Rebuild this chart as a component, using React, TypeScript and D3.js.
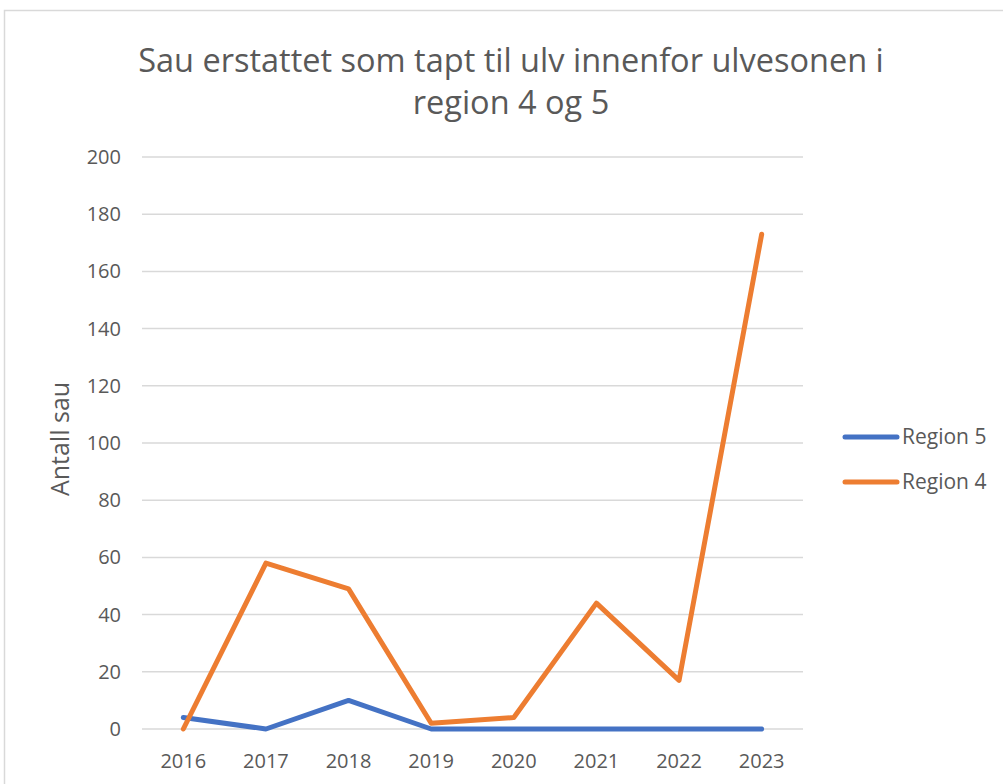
import React from "react";
import * as d3 from "d3";

const years = ["2016", "2017", "2018", "2019", "2020", "2021", "2022", "2023"];
const region5 = [4, 0, 10, 0, 0, 0, 0, 0];
const region4 = [0, 58, 49, 2, 4, 44, 17, 173];
const yTicks = [0, 20, 40, 60, 80, 100, 120, 140, 160, 180, 200];
const seriesNames = ["Region 5", "Region 4"];
const colors = ["#4472C4", "#ED7D31"];
const titleLines = ["Sau erstattet som tapt til ulv innenfor ulvesonen i", "region 4 og 5"];
const yTitle = "Antall sau";

const W = 1003, H = 784;
const left = 142, right = 803, top = 157, bottom = 729;
const font = "'Open Sans', sans-serif";

export default function App() {
  const x = d3.scaleBand<string>().domain(years).range([left, right]);
  const y = d3.scaleLinear().domain([0, 200]).range([bottom, top]);
  const line = d3
    .line<number>()
    .x((_, i) => (x(years[i]) as number) + x.bandwidth() / 2)
    .y((d) => y(d));
  const series = [region5, region4];
  return (
    <svg width={W} height={H} style={{ position: "absolute", left: 0, top: 0, display: "block" }}>
      <rect x={0} y={0} width={W} height={H} fill="#fff" />
      <rect x={4.5} y={10.5} width={W + 10} height={H + 10} fill="#fff" stroke="#d9d9d9" strokeWidth={1.5} />
      {titleLines.map((t, i) => (
        <text key={i} x={511} y={72 + i * 42} textAnchor="middle" fontSize={32.5} fill="#595959" fontFamily={font}>
          {t}
        </text>
      ))}
      {yTicks.map((t) => (
        <g key={t}>
          <line x1={left} x2={right} y1={y(t)} y2={y(t)} stroke="#d9d9d9" strokeWidth={1.5} />
          <text x={121} y={y(t)} dy="0.35em" textAnchor="end" fontSize={20} fill="#595959" fontFamily={font}>
            {t}
          </text>
        </g>
      ))}
      {years.map((yr) => (
        <text key={yr} x={(x(yr) as number) + x.bandwidth() / 2} y={768} textAnchor="middle" fontSize={20} fill="#595959" fontFamily={font}>
          {yr}
        </text>
      ))}
      <text transform="translate(69,439) rotate(-90)" textAnchor="middle" fontSize={25} fill="#595959" fontFamily={font}>
        {yTitle}
      </text>
      {series.map((s, i) => (
        <path key={i} d={line(s) || ""} fill="none" stroke={colors[i]} strokeWidth={5} strokeLinecap="round" strokeLinejoin="round" />
      ))}
      {seriesNames.map((n, i) => (
        <g key={n}>
          <line x1={845} x2={897} y1={437 + i * 45} y2={437 + i * 45} stroke={colors[i]} strokeWidth={5} strokeLinecap="round" />
          <text x={902} y={437 + i * 45} dy="0.35em" fontSize={21} fill="#595959" fontFamily={font}>
            {n}
          </text>
        </g>
      ))}
    </svg>
  );
}
